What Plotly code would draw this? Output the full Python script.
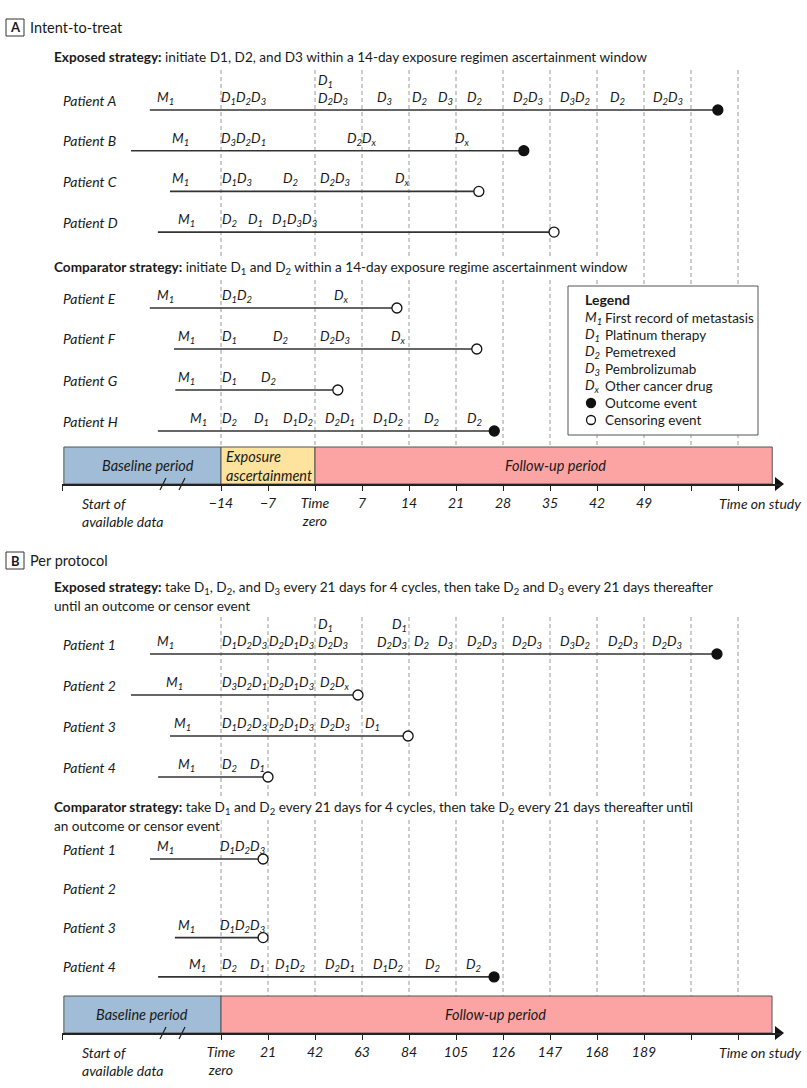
import re
import plotly.graph_objects as go

W, H = 807, 1088
FONT = "Lato"
INK = "#1a1a1a"

# ---------------- data ----------------
# Panel A: intent-to-treat (days relative to time zero)
A_TICK_DAYS = [-14, -7, 0, 7, 14, 21, 28, 35, 42, 49, 56, 63]
A_TICK_TEXT = ["\u221214", "\u22127", "Time<br>zero", "7", "14", "21", "28", "35", "42", "49", "", ""]
A_GRID_DAYS = [-14, 0, 7, 14, 21, 28, 35, 42, 49, 56, 63]
A_PERIODS = ["Baseline", "Exposure", "Follow-up"]
A_PERIOD_START = [-37.4, -14, 0]
A_PERIOD_END = [-14, 0, 68.1]

A_EXP_PATIENTS = ["Patient A", "Patient B", "Patient C", "Patient D"]
A_EXP_START = [-24.6, -27.4, -21.6, -23.4]
A_EXP_END = [60.0, 31.1, 24.4, 35.6]
A_EXP_EVENT = ["outcome", "outcome", "censor", "censor"]
A_EXP_LABELS = [
    [(-22.3, "M1"), (-10.6, "D1D2D3"), (0.3, "D1/D2D3", "left"), (10.4, "D3"), (15.6, "D2"),
     (19.4, "D3"), (23.8, "D2"), (31.7, "D2D3"), (38.7, "D3D2"), (45.0, "D2"), (52.6, "D2D3")],
    [(-20.1, "M1"), (-10.6, "D3D2D1"), (7.0, "D2Dx"), (22.0, "Dx")],
    [(-20.1, "M1"), (-11.6, "D1D3"), (-3.7, "D2"), (3.0, "D2D3"), (13.0, "Dx")],
    [(-19.2, "M1"), (-12.8, "D2"), (-8.9, "D1"), (-3.1, "D1D3D3")],
]

A_CMP_PATIENTS = ["Patient E", "Patient F", "Patient G", "Patient H"]
A_CMP_START = [-24.6, -21.0, -20.8, -23.4]
A_CMP_END = [12.2, 24.1, 3.4, 26.7]
A_CMP_EVENT = ["censor", "censor", "censor", "outcome"]
A_CMP_LABELS = [
    [(-22.2, "M1"), (-11.6, "D1D2"), (3.9, "Dx")],
    [(-19.1, "M1"), (-12.7, "D1"), (-5.1, "D2"), (3.0, "D2D3"), (12.4, "Dx")],
    [(-19.2, "M1"), (-12.7, "D1"), (-7.0, "D2")],
    [(-17.4, "M1"), (-12.7, "D2"), (-7.9, "D1"), (-2.5, "D1D2"), (3.7, "D2D1"),
     (10.9, "D1D2"), (17.4, "D2"), (23.7, "D2")],
]

# Panel B: per protocol (days relative to time zero)
B_TICK_DAYS = [0, 21, 42, 63, 84, 105, 126, 147, 168, 189, 210, 231]
B_TICK_TEXT = ["Time<br>zero", "21", "42", "63", "84", "105", "126", "147", "168", "189", "", ""]
B_GRID_DAYS = [0, 21, 42, 63, 84, 105, 126, 147, 168, 189, 210, 231]
B_PERIODS = ["Baseline", "Follow-up"]
B_PERIOD_START = [-70.2, 0]
B_PERIOD_END = [0, 246.2]

B_EXP_PATIENTS = ["Patient 1", "Patient 2", "Patient 3", "Patient 4"]
B_EXP_START = [-31.7, -40.2, -22.8, -28.1]
B_EXP_END = [221.6, 61.2, 83.6, 21.0]
B_EXP_EVENT = ["outcome", "censor", "censor", "censor"]
B_EXP_LABELS = [
    [(-25.0, "M1"), (10.3, "D1D2D3"), (31.7, "D2D1D3"), (42.9, "D1/D2D3", "left"),
     (83.4, "D1/D2D3", "right"), (89.4, "D2"), (100.1, "D3"), (116.6, "D2D3"), (136.7, "D2D3"),
     (158.2, "D3D2"), (179.6, "D2D3"), (199.3, "D2D3")],
    [(-20.6, "M1"), (10.3, "D3D2D1"), (31.7, "D2D1D3"), (50.9, "D2Dx")],
    [(-17.4, "M1"), (10.3, "D1D2D3"), (31.7, "D2D1D3"), (50.9, "D2D3"), (67.9, "D1")],
    [(-15.6, "M1"), (4.0, "D2"), (16.5, "D1")],
]

B_CMP_PATIENTS = ["Patient 1", "Patient 2", "Patient 3", "Patient 4"]
B_CMP_START = [-31.7, None, -20.6, -28.1]
B_CMP_END = [18.8, None, 18.8, 122.0]
B_CMP_EVENT = ["censor", None, "censor", "outcome"]
B_CMP_LABELS = [
    [(-24.6, "M1"), (9.8, "D1D2D3")],
    [],
    [(-15.2, "M1"), (9.8, "D1D2D3")],
    [(-10.3, "M1"), (3.6, "D2"), (16.5, "D1"), (30.8, "D1D2"), (53.2, "D2D1"),
     (74.6, "D1D2"), (94.3, "D2"), (113.0, "D2")],
]

LEGEND_KEYS = ["M1", "D1", "D2", "D3", "Dx", "outcome", "censor"]
LEGEND_TEXT = ["First record of metastasis", "Platinum therapy", "Pemetrexed", "Pembrolizumab",
               "Other cancer drug", "Outcome event", "Censoring event"]

# ---------------- layout geometry (pixels) ----------------
KA = 47 / 7.0      # px per day, panel A
KB = 47 / 21.0     # px per day, panel B
ZA, ZB = 315, 221  # px of time zero
XL, XR = 62, 782   # axis extent
A_AXIS_Y, B_AXIS_Y = 484, 1033
A_TOP_Y, B_TOP_Y = 0, 540
BAR_H = 37
PERIOD_COLORS = {"Baseline": "#a0bcd6", "Exposure": "#fde39d", "Follow-up": "#fca3a3"}
STRAT_SIZE = 13.6


def px(x):
    return x / W


def py(y):
    return 1 - y / H


def fmt(s):
    parts = []
    for p in s.split("/"):
        parts.append(re.sub(r"([DM])([0-9x])", r"\1<sub>\2</sub>", p))
    return "<i>" + "<br>".join(parts) + "</i>"


fig = go.Figure()
shapes = []
annotations = []


def add_text(x, y, text, size=14, xanchor="left", yanchor="middle", xref="paper", yref="paper",
             align="left", bg=None, color=INK):
    a = dict(x=x, y=y, xref=xref, yref=yref, text=text, showarrow=False, xanchor=xanchor,
             yanchor=yanchor, align=align, font=dict(family=FONT, size=size, color=color),
             borderpad=0)
    if bg:
        a["bgcolor"] = bg
    annotations.append(a)


def event_marker(kind, size=10):
    filled = kind == "outcome"
    return dict(size=size, color="#111" if filled else "white", line=dict(color="#111", width=1.3))


def add_group(xa, ya, patients, starts, ends, events, labels, y0, step):
    for i, name in enumerate(patients):
        ly = y0 + i * step
        add_text(px(XL), py(ly - 10), "<i>" + name + "</i>", size=14)
        if starts[i] is not None:
            fig.add_trace(go.Scatter(x=[starts[i], ends[i]], y=[ly, ly], mode="lines",
                                     line=dict(color="#333", width=1.6), xaxis=xa, yaxis=ya,
                                     showlegend=False, hoverinfo="skip"))
            fig.add_trace(go.Scatter(x=[ends[i]], y=[ly], mode="markers", xaxis=xa, yaxis=ya,
                                     marker=event_marker(events[i]),
                                     showlegend=False, hoverinfo="skip", cliponaxis=False))
        for lab in labels[i]:
            anchor = lab[2] if len(lab) > 2 else "center"
            add_text(lab[0], ly - 2, fmt(lab[1]), size=13.5, xanchor=anchor, yanchor="bottom",
                     xref=xa, yref=ya, align=anchor if anchor != "center" else "center")


def add_axis_bits(xa, ya, k, zero, axis_y, grid_days, grid_top, pstart, pend, pnames):
    for d in grid_days:
        shapes.append(dict(type="line", xref=xa, yref=ya, x0=d, x1=d, y0=grid_top,
                           y1=axis_y - BAR_H, layer="below",
                           line=dict(color="#9a9a9a", width=1, dash="4px,3px")))
    for s, e, n in zip(pstart, pend, pnames):
        shapes.append(dict(type="rect", xref=xa, yref=ya, x0=s, x1=e, y0=axis_y - BAR_H, y1=axis_y,
                           layer="below", fillcolor=PERIOD_COLORS[n], line=dict(color="#555", width=1)))
    # break marks on the axis
    for bx in (163, 182):
        shapes.append(dict(type="line", xref="paper", yref="paper", x0=px(bx - 3), x1=px(bx + 3),
                           y0=py(axis_y + 6), y1=py(axis_y - 6), line=dict(color="#222", width=1.3)))
    # arrow head
    fig.add_trace(go.Scatter(x=[(XR - 4 - zero) / k], y=[axis_y], mode="markers", xaxis=xa, yaxis=ya,
                             marker=dict(symbol="triangle-right", size=12, color="#111"),
                             showlegend=False, hoverinfo="skip", cliponaxis=False))
    add_text(px(81), py(axis_y + 10), "<i>Start of<br>available data</i>", size=14, yanchor="top")
    add_text(px(802), py(axis_y + 10), "<i>Time on study</i>", size=14, xanchor="right", yanchor="top")


# ---------------- Panel A ----------------
add_axis_bits("x", "y", KA, ZA, A_AXIS_Y, A_GRID_DAYS, 70, A_PERIOD_START, A_PERIOD_END, A_PERIODS)
add_group("x", "y", A_EXP_PATIENTS, A_EXP_START, A_EXP_END, A_EXP_EVENT, A_EXP_LABELS, 110, 40.7)
add_group("x", "y", A_CMP_PATIENTS, A_CMP_START, A_CMP_END, A_CMP_EVENT, A_CMP_LABELS, 308, 41)

shapes.append(dict(type="rect", xref="paper", yref="paper", x0=px(6), x1=px(24), y0=py(36), y1=py(19),
                   line=dict(color="#333", width=1), fillcolor="white"))
add_text(px(15), py(27.5), "<b>A</b>", size=13, xanchor="center")
add_text(px(29), py(27.5), "Intent-to-treat", size=14.5)
add_text(px(53), py(57), "<b>Exposed strategy:</b> initiate D1, D2, and D3 within a 14-day exposure regimen ascertainment window",
         size=STRAT_SIZE)
add_text(px(53), py(268), "<b>Comparator strategy:</b> initiate D<sub>1</sub> and D<sub>2</sub> within a 14-day exposure regime ascertainment window",
         size=STRAT_SIZE, bg="white")
add_text(px(148), py(466), "<i>Baseline period</i>", size=14.5, xanchor="center")
add_text(px(225), py(466), "<i>Exposure<br>ascertainment</i>", size=14.5)
add_text(px(555), py(466), "<i>Follow-up period</i>", size=14.5, xanchor="center")

# legend box (same layer as the dashed grid, drawn after it so it covers it)
shapes.append(dict(type="rect", xref="x", yref="y", x0=(568 - ZA) / KA, x1=(758 - ZA) / KA, y0=435, y1=286,
                   line=dict(color="#555", width=1), fillcolor="white", layer="below"))
add_text(px(584), py(299), "<b>Legend</b>", size=14)
for j, (key, txt) in enumerate(zip(LEGEND_KEYS, LEGEND_TEXT)):
    yy = 318 + j * 17
    if key in ("outcome", "censor"):
        fig.add_trace(go.Scatter(x=[(591 - ZA) / KA], y=[yy], mode="markers", xaxis="x", yaxis="y",
                                 marker=event_marker(key, size=9), showlegend=False,
                                 hoverinfo="skip", cliponaxis=False))
    else:
        add_text(px(584), py(yy), fmt(key), size=13.5)
    add_text(px(604), py(yy), txt, size=13.5)

# ---------------- Panel B ----------------
add_axis_bits("x2", "y2", KB, ZB, B_AXIS_Y, B_GRID_DAYS, 617, B_PERIOD_START, B_PERIOD_END, B_PERIODS)
add_group("x2", "y2", B_EXP_PATIENTS, B_EXP_START, B_EXP_END, B_EXP_EVENT, B_EXP_LABELS, 654, 41)
add_group("x2", "y2", B_CMP_PATIENTS, B_CMP_START, B_CMP_END, B_CMP_EVENT, B_CMP_LABELS, 859, 39.3)

shapes.append(dict(type="rect", xref="paper", yref="paper", x0=px(6), x1=px(24), y0=py(569), y1=py(552),
                   line=dict(color="#333", width=1), fillcolor="white"))
add_text(px(15), py(560.5), "<b>B</b>", size=13, xanchor="center")
add_text(px(29), py(560.5), "Per protocol", size=14.5)
add_text(px(53), py(588), "<b>Exposed strategy:</b> take D<sub>1</sub>, D<sub>2</sub>, and D<sub>3</sub> every 21 days for 4 cycles, then take D<sub>2</sub> and D<sub>3</sub> every 21 days thereafter",
         size=STRAT_SIZE)
add_text(px(53), py(606), "until an outcome or censor event", size=STRAT_SIZE)
add_text(px(53), py(808), "<b>Comparator strategy:</b> take D<sub>1</sub> and D<sub>2</sub> every 21 days for 4 cycles, then take D<sub>2</sub> every 21 days thereafter until",
         size=STRAT_SIZE, bg="white")
add_text(px(53), py(826), "an outcome or censor event", size=STRAT_SIZE, bg="white")
add_text(px(142), py(1014), "<i>Baseline period</i>", size=14.5, xanchor="center")
add_text(px(495), py(1014), "<i>Follow-up period</i>", size=14.5, xanchor="center")


def xaxis_cfg(k, zero, ticks, texts, anchor):
    return dict(domain=[px(XL), px(XR)], range=[(XL - zero) / k, (XR - zero) / k], anchor=anchor,
                showline=True, linecolor="#222", linewidth=1.5, ticks="outside", ticklen=5,
                tickcolor="#222", tickwidth=1.3, showgrid=False, zeroline=False,
                tickvals=[(XL - zero) / k] + ticks, ticktext=[""] + ["<i>" + t + "</i>" for t in texts],
                tickfont=dict(family=FONT, size=14, color=INK), tickangle=0, fixedrange=True)


fig.update_layout(
    width=W, height=H, margin=dict(l=0, r=0, t=0, b=0),
    paper_bgcolor="white", plot_bgcolor="rgba(0,0,0,0)", showlegend=False,
    xaxis=xaxis_cfg(KA, ZA, A_TICK_DAYS, A_TICK_TEXT, "y"),
    yaxis=dict(domain=[py(A_AXIS_Y), py(A_TOP_Y)], range=[A_AXIS_Y, A_TOP_Y], visible=False, fixedrange=True),
    xaxis2=xaxis_cfg(KB, ZB, B_TICK_DAYS, B_TICK_TEXT, "y2"),
    yaxis2=dict(domain=[py(B_AXIS_Y), py(B_TOP_Y)], range=[B_AXIS_Y, B_TOP_Y], visible=False, fixedrange=True),
    shapes=shapes, annotations=annotations,
)

fig.write_html("out.html", config={"displayModeBar": False},
               post_script="document.body.style.margin='0px';document.body.style.overflow='hidden';")
